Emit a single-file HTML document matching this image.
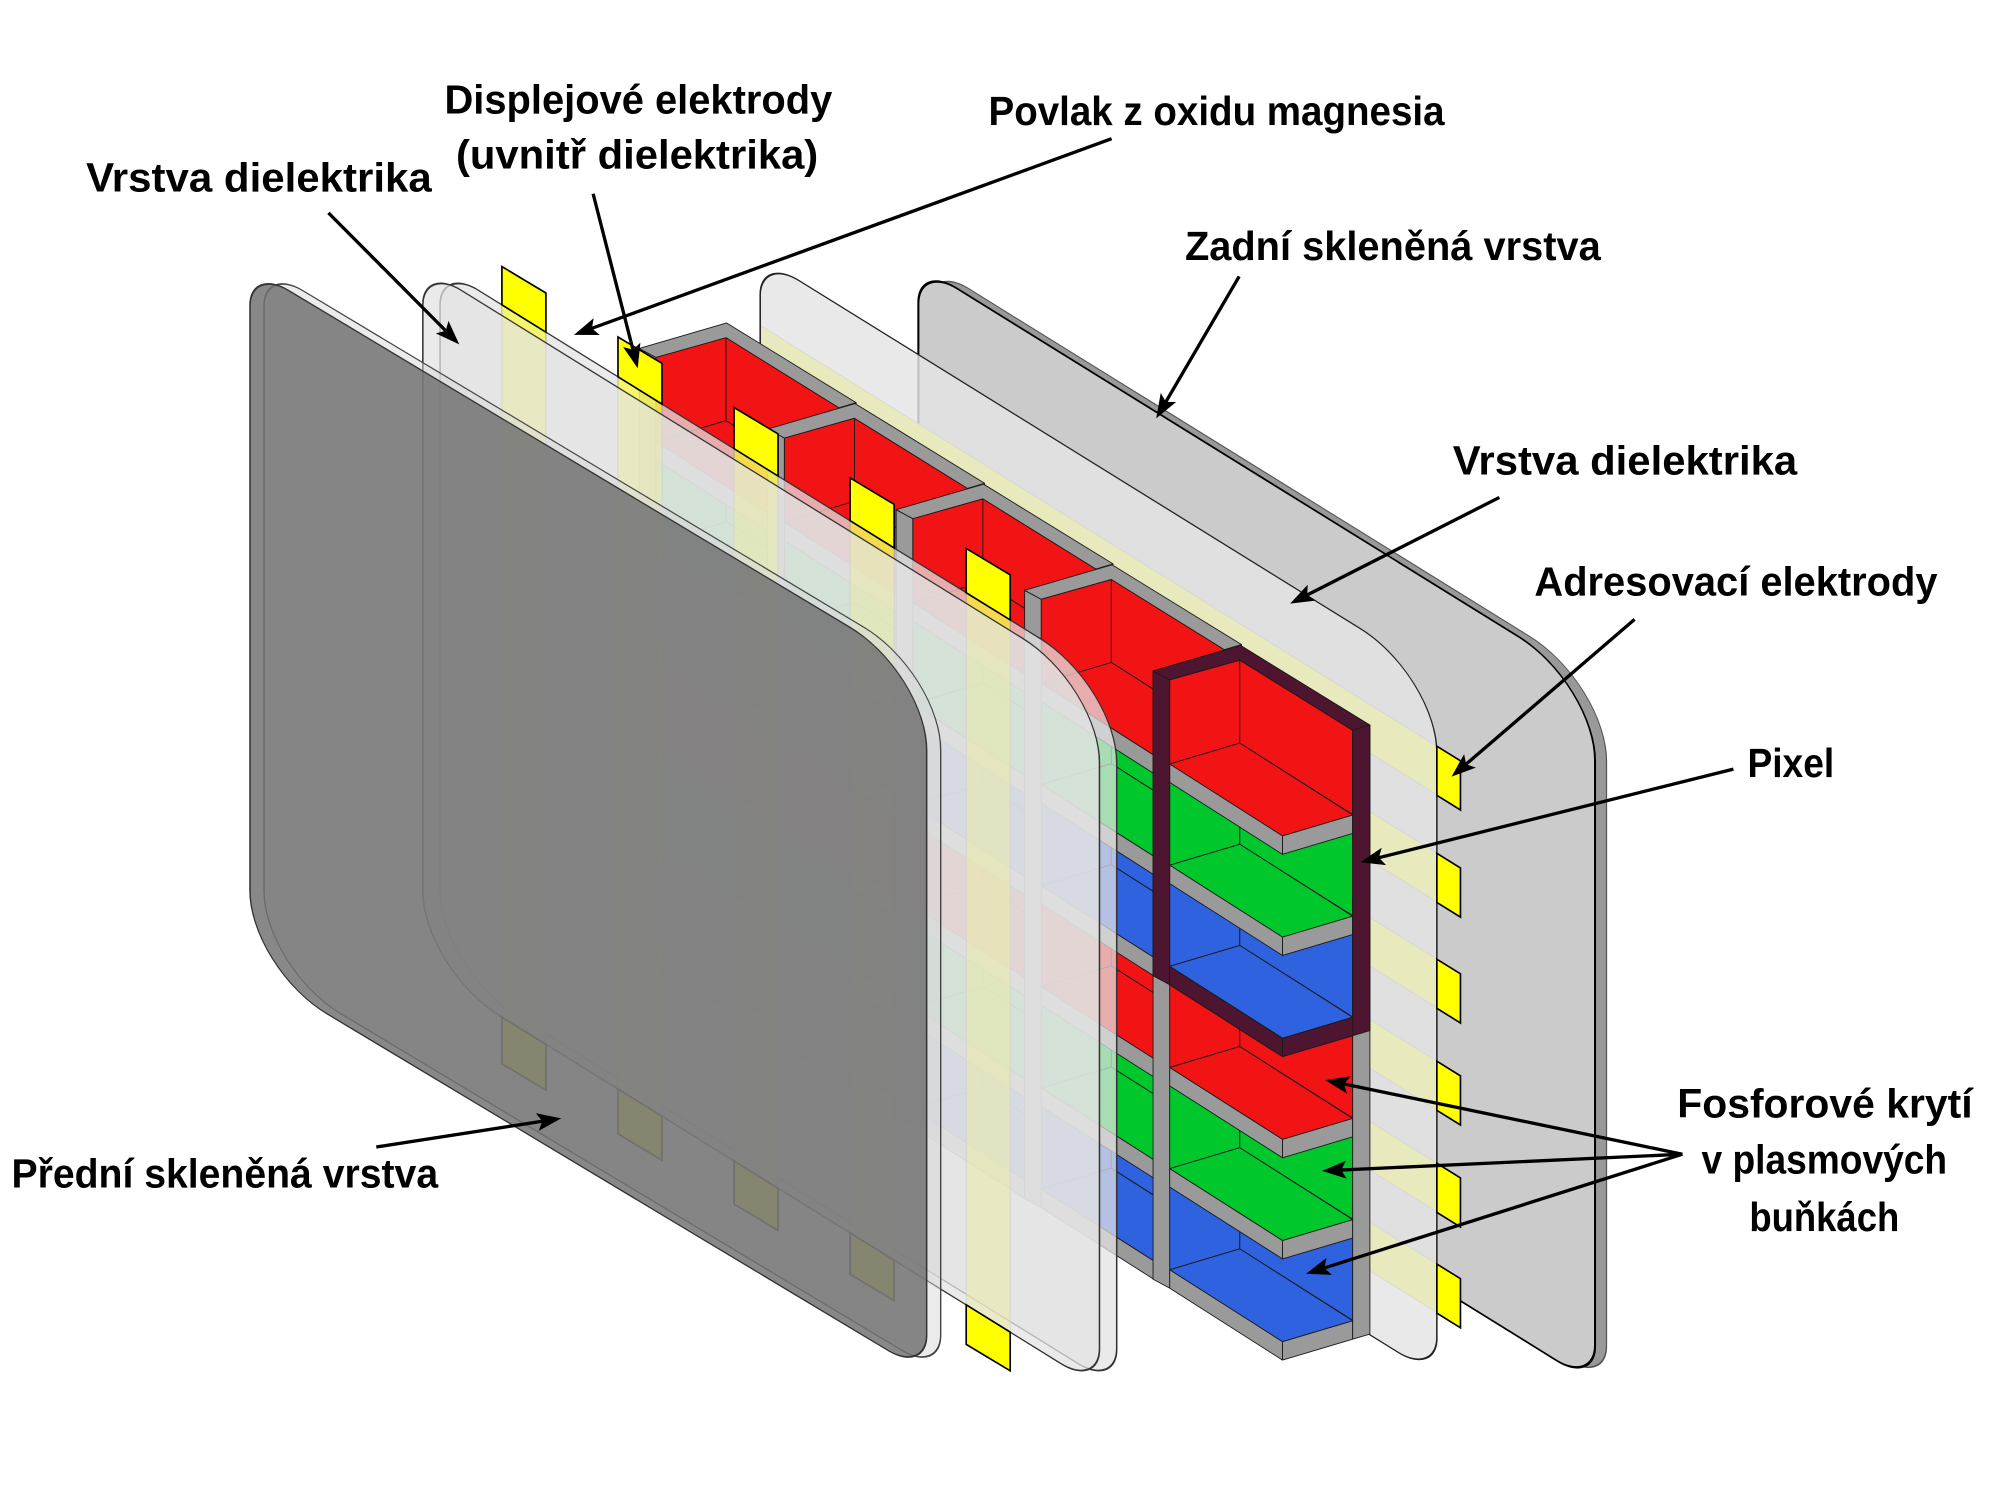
<!DOCTYPE html>
<html>
<head>
<meta charset="utf-8">
<style>
html,body{margin:0;padding:0;background:#fff;}
svg{display:block;}
.lbl{font-family:"Liberation Sans","DejaVu Sans",sans-serif;font-weight:bold;font-size:32px;fill:#000;}
</style>
</head>
<body>
<svg xmlns="http://www.w3.org/2000/svg" xmlns:xlink="http://www.w3.org/1999/xlink" width="2000" height="1500" viewBox="0 0 1568 1176">
<defs>
  <path id="pA" d="M226,92 H666.5 A60,60 0 0 1 726.5,152 V611 A30,30 0 0 1 696.5,641 H256 A60,60 0 0 1 196,581 V122 A30,30 0 0 1 226,92 Z"/>
  <path id="pB" d="M361.5,3.4 H802 A60,60 0 0 1 862,63.4 V523.4 A30,30 0 0 1 832,553.4 H391.5 A60,60 0 0 1 331.5,493.4 V33.4 A30,30 0 0 1 361.5,3.4 Z"/>
  <path id="pC" d="M626,-168.4 H1066.5 A60,60 0 0 1 1126.5,-108.4 V350.6 A30,30 0 0 1 1096.5,380.6 H656 A60,60 0 0 1 596,320.6 V-138.4 A30,30 0 0 1 626,-168.4 Z"/>
  <path id="pD" d="M750,-239 H1190.5 A60,60 0 0 1 1250.5,-179 V280 A30,30 0 0 1 1220.5,310 H780 A60,60 0 0 1 720,250 V-209 A30,30 0 0 1 750,-239 Z"/>
  <clipPath id="clipC">
    <path transform="matrix(1,0.62,0,1,0,0)" d="M626,-168.4 H1066.5 A60,60 0 0 1 1126.5,-108.4 V350.6 A30,30 0 0 1 1096.5,380.6 H656 A60,60 0 0 1 596,320.6 V-138.4 A30,30 0 0 1 626,-168.4 Z"/>
  </clipPath>
  <marker id="ah" markerUnits="userSpaceOnUse" markerWidth="19" markerHeight="14" viewBox="0 0 19 14" refX="11" refY="7" orient="auto">
    <path d="M0,0 L19,7 L0,14 L4,7 Z" fill="#000"/>
  </marker>

  <g id="col" stroke="#1a1a1a" stroke-width="0.7" stroke-linejoin="round">
    <!-- walls -->
    <polygon fill="#f21414" points="917,533 972,517.5 972,582.6 917,599"/>
    <polygon fill="#f21414" points="972,517.5 1060.5,572.5 1060.5,638.6 972,582.6"/>
    <polygon fill="#00c82c" points="917,612.3 972,596.8 972,661.9 917,678.3"/>
    <polygon fill="#00c82c" points="972,596.8 1060.5,651.8 1060.5,717.9 972,661.9"/>
    <polygon fill="#2e62df" points="917,691.6 972,676.1 972,741.2 917,757.6"/>
    <polygon fill="#2e62df" points="972,676.1 1060.5,731.1 1060.5,797.2 972,741.2"/>
    <polygon fill="#f21414" points="917,770.9 972,755.4 972,820.5 917,836.9"/>
    <polygon fill="#f21414" points="972,755.4 1060.5,810.4 1060.5,876.5 972,820.5"/>
    <polygon fill="#00c82c" points="917,850.2 972,834.7 972,899.8 917,916.2"/>
    <polygon fill="#00c82c" points="972,834.7 1060.5,889.7 1060.5,955.8 972,899.8"/>
    <polygon fill="#2e62df" points="917,929.5 972,914 972,979.1 917,995.5"/>
    <polygon fill="#2e62df" points="972,914 1060.5,969 1060.5,1035.1 972,979.1"/>
    <!-- shelves -->
    <polygon fill="#f21414" points="917,599 972,582.6 1060.5,639 1005.5,655.4"/>
    <polygon fill="#9a9a9a" points="917,599 1005.5,655.4 1005.5,669.8 917,613.4"/>
    <polygon fill="#9a9a9a" points="1005.5,655.4 1060.5,639 1060.5,653.4 1005.5,669.8"/>
    <polygon fill="#00c82c" points="917,678.3 972,661.9 1060.5,718.3 1005.5,734.7"/>
    <polygon fill="#9a9a9a" points="917,678.3 1005.5,734.7 1005.5,749.1 917,692.7"/>
    <polygon fill="#9a9a9a" points="1005.5,734.7 1060.5,718.3 1060.5,732.7 1005.5,749.1"/>
    <polygon fill="#2e62df" points="917,757.6 972,741.2 1060.5,797.6 1005.5,814"/>
    <polygon fill="#9a9a9a" points="917,757.6 1005.5,814 1005.5,828.4 917,772"/>
    <polygon fill="#9a9a9a" points="1005.5,814 1060.5,797.6 1060.5,812 1005.5,828.4"/>
    <polygon fill="#f21414" points="917,836.9 972,820.5 1060.5,876.9 1005.5,893.3"/>
    <polygon fill="#9a9a9a" points="917,836.9 1005.5,893.3 1005.5,907.7 917,851.3"/>
    <polygon fill="#9a9a9a" points="1005.5,893.3 1060.5,876.9 1060.5,891.3 1005.5,907.7"/>
    <polygon fill="#00c82c" points="917,916.2 972,899.8 1060.5,956.2 1005.5,972.6"/>
    <polygon fill="#9a9a9a" points="917,916.2 1005.5,972.6 1005.5,987 917,930.6"/>
    <polygon fill="#9a9a9a" points="1005.5,972.6 1060.5,956.2 1060.5,970.6 1005.5,987"/>
    <polygon fill="#2e62df" points="917,995.5 972,979.1 1060.5,1035.5 1005.5,1051.9"/>
    <polygon fill="#9a9a9a" points="917,995.5 1005.5,1051.9 1005.5,1066.3 917,1009.9"/>
    <polygon fill="#9a9a9a" points="1005.5,1051.9 1060.5,1035.5 1060.5,1049.9 1005.5,1066.3"/>
    <!-- posts and top bars -->
    <polygon fill="#9a9a9a" points="904,526 917,533 917,1009.9 904,1002.9"/>
    <polygon fill="#9a9a9a" points="1060.5,572.5 1074,568.5 1074,1045.9 1060.5,1049.9"/>
    <polygon fill="#9a9a9a" points="904,526 972.5,506 1074,568.5 1060.5,572.5 972,517.5 917,533"/>
  </g>
</defs>

<rect x="0" y="0" width="1568" height="1176" fill="#fff"/>

<!-- Plate D: back glass -->
<use xlink:href="#pD" href="#pD" transform="translate(9,0) matrix(1,0.62,0,1,0,0)" fill="#999999" stroke="#555" stroke-width="1"/>
<use xlink:href="#pD" href="#pD" transform="matrix(1,0.62,0,1,0,0)" fill="#cbcbcb" stroke="#000" stroke-width="1.6"/>

<!-- Address electrode bands (under plate C) -->
<g clip-path="url(#clipC)" fill="#ffff00" stroke="#888" stroke-width="0.6">
  <polygon points="590,251.3 1126.5,585 1126.5,623 590,289.3"/>
  <polygon points="590,335.3 1126.5,669 1126.5,707 590,373.3"/>
  <polygon points="590,418.3 1126.5,752 1126.5,790 590,456.3"/>
  <polygon points="590,498.3 1126.5,832 1126.5,870 590,536.3"/>
  <polygon points="590,578.3 1126.5,912 1126.5,950 590,616.3"/>
  <polygon points="590,657.3 1126.5,991 1126.5,1029 590,695.3"/>
</g>

<!-- Plate C: rear dielectric -->
<use xlink:href="#pC" href="#pC" transform="matrix(1,0.62,0,1,0,0)" fill="#e5e5e5" fill-opacity="0.83" stroke="#222" stroke-width="1.2"/>

<!-- Address electrode tabs -->
<g fill="#ffff00" stroke="#000" stroke-width="1.3" stroke-linejoin="miter">
  <polygon points="1126.5,585 1145,596.5 1145,635 1126.5,623.5"/>
  <polygon points="1126.5,669 1145,680.5 1145,719 1126.5,707.5"/>
  <polygon points="1126.5,752 1145,763.5 1145,802 1126.5,790.5"/>
  <polygon points="1126.5,832 1145,843.5 1145,882 1126.5,870.5"/>
  <polygon points="1126.5,912 1145,923.5 1145,962 1126.5,950.5"/>
  <polygon points="1126.5,991 1145,1002.5 1145,1041 1126.5,1029.5"/>
</g>

<!-- Cell columns -->
<use xlink:href="#col" href="#col" transform="translate(-402.8,-252.8)"/>
<use xlink:href="#col" href="#col" transform="translate(-302.1,-189.6)"/>
<use xlink:href="#col" href="#col" transform="translate(-201.4,-126.4)"/>
<use xlink:href="#col" href="#col" transform="translate(-100.7,-63.2)"/>
<use xlink:href="#col" href="#col"/>

<!-- Pixel frame overlay -->
<g fill="#4d152f" stroke="#1a1a1a" stroke-width="0.7" stroke-linejoin="round">
  <polygon points="904,526 972.5,506 1074,568.5 1060.5,572.5 972,517.5 917,533"/>
  <polygon points="904,526 917,533 917,772 904,765"/>
  <polygon points="1060.5,572.5 1074,568.5 1074,808 1060.5,812"/>
  <polygon points="917,757.6 1005.5,814 1005.5,828.4 917,772"/>
  <polygon points="1005.5,814 1060.5,797.6 1060.5,812 1005.5,828.4"/>
</g>

<!-- Plate B back copy -->
<use xlink:href="#pB" href="#pB" transform="translate(13.5,0) matrix(1,0.62,0,1,0,0)" fill="#e2e2e2" fill-opacity="0.74" stroke="#333" stroke-width="1.2"/>

<!-- Display electrode strips (inside dielectric) -->
<g fill="#ffff00" fill-opacity="0.55" stroke="#999" stroke-width="0.6">
  <polygon points="393.5,209 428,229.7 428,854.7 393.5,834"/>
  <polygon points="484.5,264.2 519,284.9 519,909.7 484.5,889"/>
  <polygon points="575.5,319.5 610,340.2 610,964.7 575.5,944"/>
  <polygon points="666.5,374.7 701,395.4 701,1019.7 666.5,999"/>
  <polygon points="757.5,430 792,450.7 792,1074.7 757.5,1054"/>
</g>

<!-- Plate B front -->
<use xlink:href="#pB" href="#pB" transform="matrix(1,0.62,0,1,0,0)" fill="#e2e2e2" fill-opacity="0.74" stroke="#333" stroke-width="1.2"/>

<!-- Display electrode tabs -->
<g fill="#ffff00" stroke="#000" stroke-width="1.3">
  <polygon points="393.5,209 428,229.7 428,260.4 393.5,239"/>
  <polygon points="484.5,264.2 519,284.9 519,316.8 484.5,295.4"/>
  <polygon points="575.5,319.5 610,340.2 610,373.2 575.5,351.8"/>
  <polygon points="666.5,374.7 701,395.4 701,429.6 666.5,408.2"/>
  <polygon points="757.5,430 792,450.7 792,486 757.5,464.7"/>
  <polygon points="393.5,797.4 428,818.8 428,854.7 393.5,834"/>
  <polygon points="484.5,853.8 519,875.2 519,909.7 484.5,889"/>
  <polygon points="575.5,910.2 610,931.6 610,964.7 575.5,944"/>
  <polygon points="666.5,966.6 701,988 701,1019.7 666.5,999"/>
  <polygon points="757.5,1023 792,1044.4 792,1074.7 757.5,1054"/>
</g>

<!-- Plate A: front glass -->
<use xlink:href="#pA" href="#pA" transform="translate(11,0) matrix(1,0.6,0,1,0,0)" fill="#d8d8d8" fill-opacity="0.5" stroke="#444" stroke-width="1.1"/>
<use xlink:href="#pA" href="#pA" transform="matrix(1,0.6,0,1,0,0)" fill="#717171" fill-opacity="0.835" stroke="#333" stroke-width="1.2"/>

<!-- Arrows -->
<g stroke="#000" stroke-width="2.6" fill="none" marker-end="url(#ah)">
  <path d="M257.5,166.9 L354.4,264.3"/>
  <path d="M465,151.9 L498,281"/>
  <path d="M871.5,108.75 L457.5,259.8"/>
  <path d="M971.5,216.75 L910.5,321.1"/>
  <path d="M1175.5,390 L1018.6,469.6"/>
  <path d="M1281.5,485.6 L1144.1,603.7"/>
  <path d="M1359,603 L1074.3,674.1"/>
  <path d="M295,899.25 L432.1,878"/>
  <path d="M1319,904.9 L1046.8,848.4"/>
  <path d="M1319,904.9 L1044.5,917.6"/>
  <path d="M1319,904.9 L1031.6,996.2"/>
</g>

<!-- Labels -->
<text class="lbl" x="348.5" y="89" textLength="304" lengthAdjust="spacingAndGlyphs">Displejové elektrody</text>
<text class="lbl" x="357.5" y="132" textLength="284" lengthAdjust="spacingAndGlyphs">(uvnitř dielektrika)</text>
<text class="lbl" x="67.5" y="150" textLength="271" lengthAdjust="spacingAndGlyphs">Vrstva dielektrika</text>
<text class="lbl" x="775" y="98" textLength="357.5" lengthAdjust="spacingAndGlyphs">Povlak z oxidu magnesia</text>
<text class="lbl" x="929" y="204" textLength="326" lengthAdjust="spacingAndGlyphs">Zadní skleněná vrstva</text>
<text class="lbl" x="1139" y="372" textLength="270" lengthAdjust="spacingAndGlyphs">Vrstva dielektrika</text>
<text class="lbl" x="1203" y="467" textLength="316" lengthAdjust="spacingAndGlyphs">Adresovací elektrody</text>
<text class="lbl" x="1370" y="609" textLength="68" lengthAdjust="spacingAndGlyphs">Pixel</text>
<text class="lbl" x="1315" y="876" textLength="231.5" lengthAdjust="spacingAndGlyphs">Fosforové krytí</text>
<text class="lbl" x="1334" y="920" textLength="192.5" lengthAdjust="spacingAndGlyphs">v plasmových</text>
<text class="lbl" x="1371.5" y="965" textLength="117.5" lengthAdjust="spacingAndGlyphs">buňkách</text>
<text class="lbl" x="9" y="931" textLength="334.5" lengthAdjust="spacingAndGlyphs">Přední skleněná vrstva</text>
</svg>
</body>
</html>
